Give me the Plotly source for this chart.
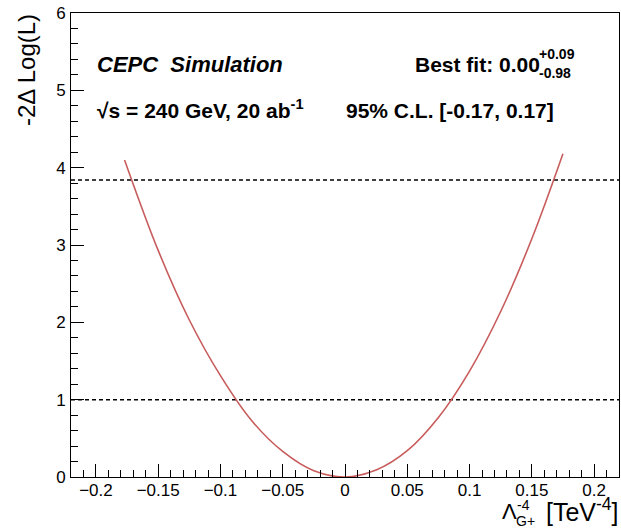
import plotly.graph_objects as go

# Data
scan_x = [-0.177, -0.15, -0.125, -0.1, -0.075, -0.05, -0.025, 0.0, 0.025, 0.05, 0.075, 0.1, 0.125, 0.15, 0.175]
scan_y = [4.10, 2.93, 2.03, 1.31, 0.73, 0.33, 0.08, 0.0, 0.09, 0.34, 0.77, 1.37, 2.14, 3.08, 4.18]
cl_levels = [1.0, 3.84]
x_range = [-0.22, 0.22]
y_range = [0, 6]
x_ticks = [-0.2, -0.15, -0.1, -0.05, 0, 0.05, 0.1, 0.15, 0.2]
x_tick_labels = ["\u22120.2", "\u22120.15", "\u22120.1", "\u22120.05", "0", "0.05", "0.1", "0.15", "0.2"]
y_ticks = [0, 1, 2, 3, 4, 5, 6]

W, H = 621, 532
L, R, T, B = 71, 619, 13, 477
FONT = "Liberation Sans, Arial, Helvetica, sans-serif"


def px(x):
    return (x - L) / (R - L)


def py(y):
    return (B - y) / (B - T)


fig = go.Figure()
for lvl in cl_levels:
    fig.add_trace(go.Scatter(x=x_range, y=[lvl, lvl], mode="lines",
                             line=dict(color="black", width=1.5, dash="4px,3px"),
                             hoverinfo="skip", showlegend=False))
fig.add_trace(go.Scatter(x=scan_x, y=scan_y, mode="lines",
                         line=dict(color="#c85c5c", width=1.6, shape="spline", smoothing=1.0),
                         showlegend=False))

ann = []


def text(x, y, s, size, xanchor="left", yanchor="middle", angle=0):
    ann.append(dict(x=px(x), y=py(y), xref="paper", yref="paper", text=s, showarrow=False,
                    xanchor=xanchor, yanchor=yanchor, textangle=angle, borderpad=0,
                    font=dict(family=FONT, size=size, color="black")))


text(96, 65, "<b><i>CEPC  Simulation</i></b>", 22)
text(96, 109, "<b>\u221As = 240 GeV, 20 ab<sup>-1</sup></b>", 21)
text(345, 110, "<b>95% C.L. [-0.17, 0.17]</b>", 21)
text(541, 64, "<b>Best fit: 0.00</b>", 21, xanchor="right")
text(538, 54, "<b>+0.09</b>", 14)
text(538, 73, "<b>-0.98</b>", 14)
# axis titles
text(27, 70, "-2\u0394 Log(L)", 24, xanchor="center", angle=-90)
text(620, 510, "[TeV<sup>-4</sup>]", 25, xanchor="right")
text(518, 511, "\u039B", 22, xanchor="right")
text(516, 505, "-4", 14)
text(515, 521, "G+", 14)

fig.update_layout(
    width=W, height=H,
    margin=dict(l=L, r=W - R, t=T, b=H - B, pad=0),
    paper_bgcolor="white", plot_bgcolor="white",
    font=dict(family=FONT, size=16, color="black"),
    annotations=ann,
    xaxis=dict(range=x_range, tickvals=x_ticks, ticktext=x_tick_labels,
               ticks="inside", ticklen=13, tickwidth=1, tickcolor="black",
               showline=True, linecolor="black", linewidth=1, mirror=True,
               showgrid=False, zeroline=False, ticklabelstandoff=-2,
               minor=dict(dtick=0.01, tick0=0, ticks="inside", ticklen=7, tickcolor="black", showgrid=False),
               tickfont=dict(size=17, family=FONT)),
    yaxis=dict(range=y_range, tickvals=y_ticks,
               ticks="inside", ticklen=13, tickwidth=1, tickcolor="black",
               showline=True, linecolor="black", linewidth=1, mirror=True,
               showgrid=False, zeroline=False, ticklabelstandoff=1,
               minor=dict(dtick=0.2, tick0=0, ticks="inside", ticklen=7, tickcolor="black", showgrid=False),
               tickfont=dict(size=17, family=FONT)),
)

fig.write_html("out.html", config={"displayModeBar": False},
               post_script="document.body.style.margin='0';document.body.style.padding='0';")
